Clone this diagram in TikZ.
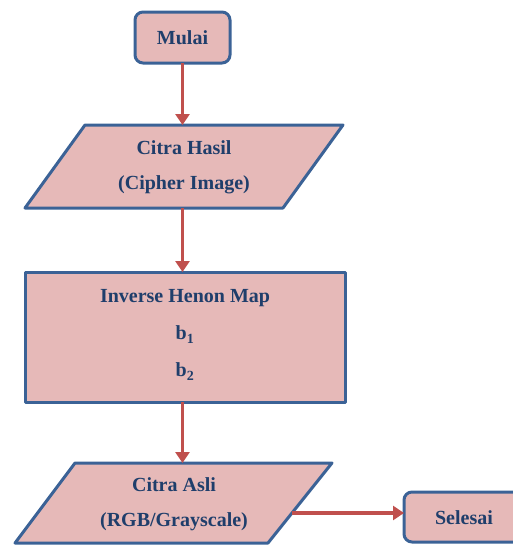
\documentclass[tikz,border=0pt]{standalone}
\usepackage{fontspec}
\setmainfont{Liberation Serif}
\usetikzlibrary{arrows.meta}
\definecolor{boxfill}{HTML}{E6B9B8}
\definecolor{boxline}{HTML}{3B6296}
\definecolor{linkred}{HTML}{C0504D}
\definecolor{textblue}{HTML}{1F3E6B}
\tikzset{
  shapeline/.style={draw=boxline, line width=3pt, fill=boxfill, line join=round},
  term/.style={shapeline, rounded corners=8pt},
  label/.style={font=\fontsize{20}{35}\selectfont\bfseries, text=textblue, align=center, inner sep=0pt},
  link/.style={draw=linkred, line width=3.2pt, -{Triangle[length=11pt,width=14pt]}},
}
\begin{document}
\begin{tikzpicture}[x=1pt,y=-1pt]
\useasboundingbox (0,0) rectangle (513,546);
\begin{scope}
\clip (0,0) rectangle (513,546);

% start terminal
\draw[term] (135,12) rectangle (230,63);
\node[label] (mulai) at (182.5,38) {Mulai};
\coordinate (mulaiS) at (182.5,63);

% input: cipher image
\draw[shapeline] (25,208) -- (85,125) -- (343,125) -- (283,208) -- cycle;
\node[label] (hasil) at (184,167) {Citra Hasil\\(Cipher Image)};
\coordinate (hasilN) at (182.5,125);
\coordinate (hasilS) at (182.5,208);

% process
\draw[shapeline] (25,272) rectangle (345,402);
\node[label, font=\fontsize{20}{37}\selectfont\bfseries] (proses) at (185,335) {Inverse Henon Map\\b\textsubscript{1}\\b\textsubscript{2}};
\coordinate (prosesN) at (182.5,272);
\coordinate (prosesS) at (182.5,402);

% output: original image
\draw[shapeline] (15,543) -- (75,463) -- (332,463) -- (268,543) -- cycle;
\node[label] (asli) at (174,504) {Citra Asli\\(RGB/Grayscale)};
\coordinate (asliN) at (182.5,463);
\coordinate (asliE) at (292,513);

% end terminal
\draw[term] (404,492) rectangle (524,542);
\node[label] (selesai) at (464,518) {Selesai};
\coordinate (selesaiW) at (404,513);

% connectors
\draw[link] (mulaiS) -- (hasilN);
\draw[link] (hasilS) -- (prosesN);
\draw[link] (prosesS) -- (asliN);
\draw[link] (asliE) -- (selesaiW);
\end{scope}
\end{tikzpicture}
\end{document}
